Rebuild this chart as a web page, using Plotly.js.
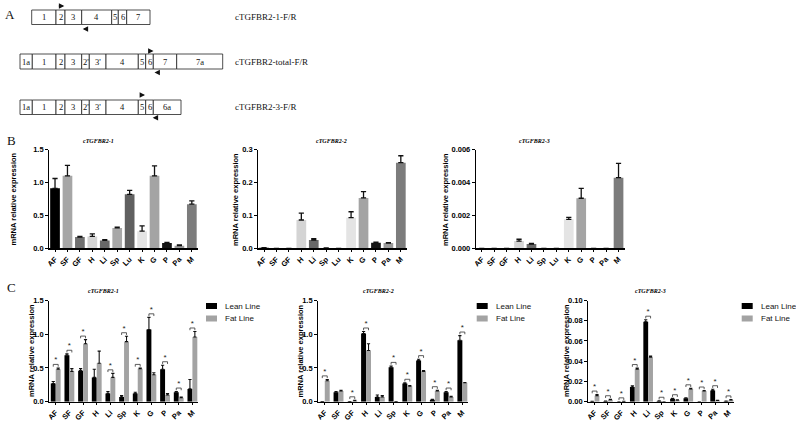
<!DOCTYPE html>
<html><head><meta charset="utf-8">
<script src="https://cdn.plot.ly/plotly-3.0.1.min.js"></script>
<style>html,body{margin:0;padding:0;background:#fff}#chart{width:796px;height:421px}</style>
</head><body><div id="chart"></div>
<script>
// ---------- Panel A: exon structure ----------
const row1Labels = ['1','2','3','4','5','6','7'];
const row1Widths = [24.3, 9, 16.7, 30, 6.6, 8.4, 23.3];
const row2Labels = ['1a','1','2','3',"2'","3'",'4','5','6','7','7a'];
const row2Widths = [12.3, 23.7, 9, 16.7, 7.6, 16.7, 32.3, 7.4, 7.6, 23.4, 46];
const row3Labels = ['1a','1','2','3',"2'","3'",'4','5','6','6a'];
const row3Widths = [12.3, 23.7, 9, 16.7, 7.6, 16.7, 32.3, 7.4, 7.6, 27.7];
const primerNames = ['cTGFBR2-1-F/R', 'cTGFBR2-total-F/R', 'cTGFBR2-3-F/R'];

// ---------- Panel B ----------
const catB = ['AF','SF','GF','H','Li','Sp','Lu','K','G','P','Pa','M'];
const b1Vals = [0.91, 1.10, 0.17, 0.18, 0.12, 0.31, 0.82, 0.26, 1.10, 0.08, 0.04, 0.67];
const b1Err  = [0.15, 0.16, 0.01, 0.04, 0.01, 0.01, 0.06, 0.08, 0.15, 0.01, 0.01, 0.05];
const b2Vals = [0.002, 0, 0, 0.086, 0.025, 0.001, 0, 0.093, 0.153, 0.017, 0.016, 0.26];
const b2Err  = [0, 0, 0, 0.021, 0.004, 0, 0, 0.018, 0.019, 0.002, 0.001, 0.021];
const b3Vals = [0, 0, 0, 0.00044, 0.00026, 0, 0, 0.00176, 0.00304, 0, 0, 0.00429];
const b3Err  = [0, 0, 0, 0.00011, 0.00004, 0, 0, 0.00012, 0.0006, 0, 0, 0.00087];
const bColors = ['#000000','#a6a6a6','#707070','#d4d4d4','#686868','#a8a8a8','#606060','#e4e4e4','#a4a4a4','#141414','#9a9a9a','#7c7c7c'];

// ---------- Panel C ----------
const catC = ['AF','SF','GF','H','Li','Sp','K','G','P','Pa','M'];
const c1Lean    = [0.27, 0.69, 0.46, 0.36, 0.12, 0.07, 0.12, 1.07, 0.48, 0.14, 0.19];
const c1LeanErr = [0.03, 0.02, 0.03, 0.12, 0.03, 0.02, 0.02, 0.18, 0.06, 0.01, 0.14];
const c1Fat     = [0.48, 0.45, 0.86, 0.57, 0.36, 0.89, 0.49, 0.40, 0.10, 0.06, 0.96];
const c1FatErr  = [0.02, 0.04, 0.06, 0.18, 0.06, 0.08, 0.01, 0.03, 0.02, 0.01, 0.08];
const c1Sig     = [1,1,1,0,1,1,1,1,1,1,1];
const c2Lean    = [0.003, 0.14, 0.002, 1.01, 0.07, 0.51, 0.27, 0.61, 0.03, 0.14, 0.91];
const c2LeanErr = [0, 0.01, 0, 0.03, 0.03, 0.02, 0.01, 0.02, 0.005, 0.01, 0.07];
const c2Fat     = [0.31, 0.16, 0.015, 0.76, 0.07, 0.002, 0.23, 0.45, 0.16, 0.07, 0.28];
const c2FatErr  = [0.02, 0.01, 0.005, 0.10, 0.02, 0, 0.01, 0.01, 0.01, 0.01, 0.005];
const c2Sig     = [1,0,1,1,0,1,1,1,1,1,1];
const c3Lean    = [0.0003, 0.0005, 0, 0.0145, 0.079, 0.0007, 0.003, 0.0035, 0, 0.011, 0.0005];
const c3LeanErr = [0, 0.0002, 0, 0.0013, 0.002, 0.0002, 0.0004, 0.0003, 0, 0.0013, 0.0002];
const c3Fat     = [0.006, 0.002, 0.0003, 0.032, 0.044, 0, 0.0015, 0.0125, 0.0105, 0.0013, 0.0018];
const c3FatErr  = [0.001, 0.0004, 0, 0.0012, 0.001, 0, 0.0003, 0.0007, 0.0005, 0.0002, 0.0004];
const c3Sig     = [1,1,1,1,1,1,1,1,1,1,1];
const seriesNames = ['Lean Line', 'Fat Line'];
const seriesColors = ['#000000', '#a3a3a3'];

// ---------- helpers ----------
const W = 796, H = 421;
const px = v => v / W;
const py = v => 1 - v / H;
const SANS = 'Liberation Sans, Arial, sans-serif';
const SERIF = 'Liberation Serif, Times New Roman, serif';
const tickFont = {family: SANS, size: 7.5, color: '#000', weight: 'bold'};
const axName = (k) => k === 1 ? '' : String(k);

const traces = [];
const annotations = [];
const shapes = [];
const layout = {
  width: W, height: H, margin: {l: 0, r: 0, t: 0, b: 0},
  paper_bgcolor: '#fff', plot_bgcolor: 'rgba(0,0,0,0)',
  showlegend: false, barmode: 'overlay', font: {family: SANS}
};

function errArr(vals, errs) { return errs.map((e, i) => vals[i] > 0 ? e : NaN); }

function addAxes(k, xl, xr, yt, yb, cats, xrange, yrange, ytick, yfmt) {
  const n = axName(k);
  layout['xaxis' + n] = {
    domain: [px(xl), px(xr)], range: xrange, anchor: 'y' + n,
    tickmode: 'array', tickvals: cats.map((_, i) => i), ticktext: cats,
    tickangle: -45, showline: true, linecolor: '#000', linewidth: 1.2,
    ticks: 'outside', ticklen: 2.5, tickwidth: 1, tickcolor: '#000',
    showgrid: false, zeroline: false, tickfont: tickFont, fixedrange: true
  };
  layout['yaxis' + n] = {
    domain: [py(yb), py(yt)], range: yrange, anchor: 'x' + n,
    tickmode: 'array', tickvals: ytick, tickformat: yfmt,
    showline: true, linecolor: '#000', linewidth: 1.2,
    ticks: 'outside', ticklen: 3, tickwidth: 1, tickcolor: '#000',
    showgrid: false, zeroline: false, tickfont: tickFont, fixedrange: true
  };
}

function paperNote(x, y, text, font, extra) {
  annotations.push(Object.assign({xref: 'paper', yref: 'paper', x: px(x), y: py(y), text: text,
    xanchor: 'center', yanchor: 'middle', showarrow: false, font: font}, extra || {}));
}
function addYTitle(x, y) {
  paperNote(x, y, 'mRNA relative expression', {family: SANS, size: 7.5, color: '#000', weight: 'bold'}, {textangle: -90});
}
function addPlotTitle(x, y, t) {
  paperNote(x, y, '<b><i>' + t + '</i></b>', {family: SERIF, size: 6, color: '#000'});
}

// ---------- Panel B ----------
const bX = [-0.46, 11.52];
const bSpecs = [
  {vals: b1Vals, err: b1Err, xl: 49.3, range: [0, 1.5], ticks: [0, 0.5, 1.0, 1.5], fmt: '.1f', title: 'cTGFBR2-1', tx: 98, yt: 12.5},
  {vals: b2Vals, err: b2Err, xl: 258.3, range: [0, 0.3], ticks: [0, 0.1, 0.2, 0.3], fmt: '.1f', title: 'cTGFBR2-2', tx: 331, yt: 235},
  {vals: b3Vals, err: b3Err, xl: 476, range: [0, 0.006], ticks: [0, 0.002, 0.004, 0.006], fmt: '.3f', title: 'cTGFBR2-3', tx: 534, yt: 445}
];
bSpecs.forEach((s, j) => {
  const k = j + 1, n = axName(k);
  addAxes(k, s.xl, s.xl + 149, 149.5, 248.3, catB, bX, s.range, s.ticks, s.fmt);
  traces.push({
    type: 'bar', x: catB.map((_, i) => i), y: s.vals, width: 0.78,
    marker: {color: bColors, line: {width: 0}},
    error_y: {type: 'data', symmetric: false, array: errArr(s.vals, s.err), arrayminus: s.err.map(() => 0),
      color: '#111', thickness: 1.3, width: 2.6},
    xaxis: 'x' + n, yaxis: 'y' + n, hoverinfo: 'skip', showlegend: false
  });
  addYTitle(s.yt, 199);
  addPlotTitle(s.tx, 141, s.title);
});

// ---------- Panel C ----------
const cX = [-0.47, 10.41];
const halfW = 0.36;
const cSpecs = [
  {lean: c1Lean, le: c1LeanErr, fat: c1Fat, fe: c1FatErr, sig: c1Sig, xl: 49.3, xr: 198, range: [0, 1.5], ticks: [0, 0.5, 1.0, 1.5], fmt: '.1f', title: 'cTGFBR2-1', tx: 103, yt: 31, lx: 206},
  {lean: c2Lean, le: c2LeanErr, fat: c2Fat, fe: c2FatErr, sig: c2Sig, xl: 318.3, xr: 468, range: [0, 1.5], ticks: [0, 0.5, 1.0, 1.5], fmt: '.1f', title: 'cTGFBR2-2', tx: 378, yt: 299.5, lx: 476.7},
  {lean: c3Lean, le: c3LeanErr, fat: c3Fat, fe: c3FatErr, sig: c3Sig, xl: 588.3, xr: 734, range: [0, 0.1], ticks: [0, 0.02, 0.04, 0.06, 0.08, 0.10], fmt: '.2f', title: 'cTGFBR2-3', tx: 650, yt: 566, lx: 741.7}
];
cSpecs.forEach((s, j) => {
  const k = j + 4, n = axName(k);
  addAxes(k, s.xl, s.xr, 300.5, 401.7, catC, cX, s.range, s.ticks, s.fmt);
  const xs = catC.map((_, i) => i);
  [[s.lean, s.le, -halfW], [s.fat, s.fe, 0]].forEach(([v, e, off], t) => {
    traces.push({
      type: 'bar', x: xs, y: v, width: halfW, offset: off, name: seriesNames[t],
      marker: {color: seriesColors[t], line: {width: 0}},
      error_y: {type: 'data', symmetric: false, array: errArr(v, e), arrayminus: e.map(() => 0),
        color: '#111', thickness: 1.1, width: 1.6},
      xaxis: 'x' + n, yaxis: 'y' + n, hoverinfo: 'skip', showlegend: false
    });
  });
  const ymax = s.range[1];
  const offY = ymax * 0.035, tk = ymax * 0.022, q = halfW / 2;
  const bx = [], by = [], sx = [], sy = [];
  s.sig.forEach((g, i) => {
    if (!g) return;
    const top = Math.max(s.lean[i] + s.le[i], s.fat[i] + s.fe[i]);
    const yb = top + offY;
    bx.push(i - q, i - q, i + q, i + q, null);
    by.push(yb - tk, yb, yb, yb - tk, null);
    sx.push(i); sy.push(yb);
  });
  traces.push({type: 'scatter', mode: 'lines', x: bx, y: by, line: {color: '#333', width: 0.8},
    xaxis: 'x' + n, yaxis: 'y' + n, hoverinfo: 'skip', showlegend: false, cliponaxis: false});
  traces.push({type: 'scatter', mode: 'text', x: sx, y: sy, text: sx.map(() => '*'), textposition: 'top center',
    textfont: {family: SANS, size: 8, color: '#222'},
    xaxis: 'x' + n, yaxis: 'y' + n, hoverinfo: 'skip', showlegend: false, cliponaxis: false});
  addYTitle(s.yt, 351);
  addPlotTitle(s.tx, 290.5, s.title);
  seriesNames.forEach((nm, t) => {
    const yc = 306 + t * 12.5;
    shapes.push({type: 'rect', xref: 'paper', yref: 'paper', x0: px(s.lx), x1: px(s.lx + 11),
      y0: py(yc + 3), y1: py(yc - 3), fillcolor: seriesColors[t], line: {width: 0}});
    paperNote(s.lx + 17, yc, nm, {family: SANS, size: 8, color: '#111'}, {xanchor: 'left'});
  });
});

// ---------- Panel A ----------
layout.xaxis7 = {domain: [0, 1], range: [0, W], visible: false, fixedrange: true, anchor: 'y7'};
layout.yaxis7 = {domain: [py(130), 1], range: [130, 0], visible: false, fixedrange: true, anchor: 'x7'};
const rows = [
  {labels: row1Labels, widths: row1Widths, start: 31.7, y0: 10, y1: 24.5, name: primerNames[0], fwd: [57.3, 64.3, 6], rev: [89.3, 82.7, 29]},
  {labels: row2Labels, widths: row2Widths, start: 20, y0: 54, y1: 69, name: primerNames[1], fwd: [147.3, 153.5, 51], rev: [161, 154.5, 72.5]},
  {labels: row3Labels, widths: row3Widths, start: 20, y0: 100, y1: 114.5, name: primerNames[2], fwd: [139, 145, 95], rev: [159.3, 152.7, 117.7]}
];
rows.forEach(r => {
  let x = r.start;
  r.widths.forEach((w, i) => {
    shapes.push({type: 'rect', xref: 'x7', yref: 'y7', x0: x, x1: x + w, y0: r.y0, y1: r.y1,
      line: {color: '#222', width: 0.8}, fillcolor: '#fff'});
    annotations.push({xref: 'x7', yref: 'y7', x: x + w / 2, y: (r.y0 + r.y1) / 2, text: r.labels[i],
      xanchor: 'center', yanchor: 'middle',
      showarrow: false, font: {family: SERIF, size: 8.5, color: '#111'}});
    x += w;
  });
  annotations.push({xref: 'x7', yref: 'y7', x: 233, y: (r.y0 + r.y1) / 2, xanchor: 'left', yanchor: 'middle', text: r.name,
    showarrow: false, font: {family: SERIF, size: 9, color: '#111'}});
  [r.fwd, r.rev].forEach(a => {
    annotations.push({xref: 'x7', yref: 'y7', axref: 'x7', ayref: 'y7', x: a[1], y: a[2], ax: a[0], ay: a[2],
      text: '', showarrow: true, arrowhead: 2, arrowsize: 0.9, arrowwidth: 1.2, arrowcolor: '#111', standoff: 0});
  });
});

[['A', 10, 14], ['B', 11, 140], ['C', 11, 287]].forEach(([t, x, y]) => {
  paperNote(x, y, t, {family: SERIF, size: 13, color: '#111'});
});

layout.annotations = annotations;
layout.shapes = shapes;
Plotly.newPlot('chart', traces, layout, {staticPlot: true, displayModeBar: false});
</script>
</body></html>
